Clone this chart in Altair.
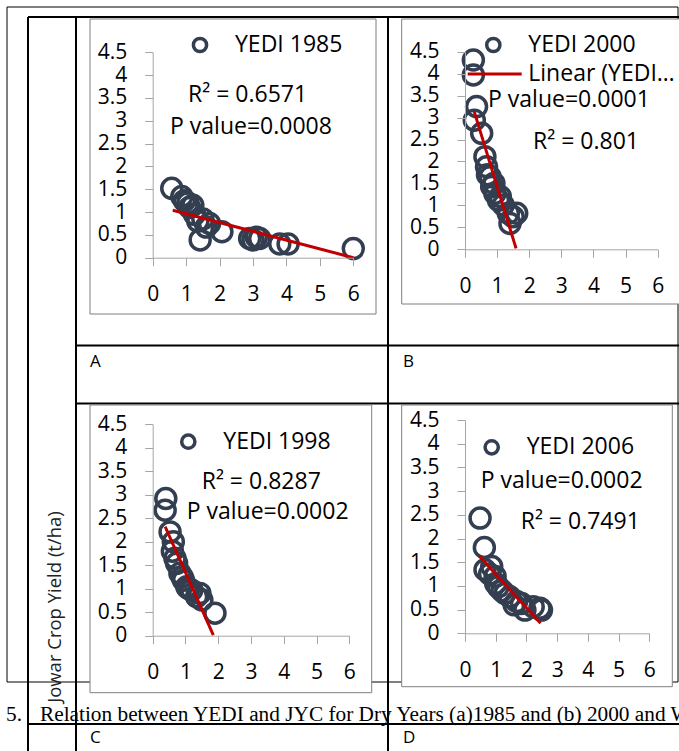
import altair as alt
import pandas as pd

# ---------------- data ----------------
X_TICKS = [0, 1, 2, 3, 4, 5, 6]
Y_TICKS = [0, 0.5, 1, 1.5, 2, 2.5, 3, 3.5, 4, 4.5]

# Panel A : YEDI 1985
A_yedi = [0.57, 0.87, 0.95, 1.05, 1.10, 1.20, 1.25, 1.35, 1.42, 1.50, 1.60, 1.70, 2.07, 2.90, 3.00, 3.10, 3.20, 3.80, 4.05, 6.00]
A_jyc = [1.52, 1.34, 1.25, 1.20, 1.10, 1.15, 0.95, 0.80, 0.39, 0.85, 0.67, 0.75, 0.57, 0.42, 0.39, 0.45, 0.42, 0.30, 0.30, 0.20]
A_trend_x = [0.60, 6.00]
A_trend_y = [1.04, 0.00]

# Panel B : YEDI 2000
B_yedi = [0.26, 0.26, 0.36, 0.29, 0.52, 0.62, 0.67, 0.70, 0.78, 0.83, 0.90, 0.93, 1.04, 1.10, 1.19, 1.35, 1.40, 1.50, 1.61]
B_jyc = [4.31, 3.97, 3.25, 2.94, 2.64, 2.11, 1.88, 1.70, 1.65, 1.43, 1.50, 1.27, 1.12, 1.20, 1.01, 0.82, 0.59, 0.74, 0.82]
B_trend_x = [0.29, 1.59]
B_trend_y = [3.13, 0.02]

# Panel C : YEDI 1998
C_yedi = [0.40, 0.38, 0.53, 0.60, 0.63, 0.68, 0.73, 0.83, 0.90, 0.94, 1.04, 1.10, 1.19, 1.34, 1.44, 1.50, 1.90]
C_jyc = [2.92, 2.67, 2.21, 1.80, 2.00, 1.65, 1.54, 1.33, 1.25, 1.18, 1.04, 1.00, 0.97, 0.83, 0.90, 0.76, 0.48]
C_trend_x = [0.38, 1.85]
C_trend_y = [2.32, 0.01]

# Panel D : YEDI 2006
D_yedi = [0.49, 0.63, 0.65, 0.80, 0.87, 0.98, 1.00, 1.08, 1.20, 1.30, 1.46, 1.60, 1.68, 1.84, 1.95, 2.22, 2.44, 2.49]
D_jyc = [2.43, 1.81, 1.34, 1.25, 1.41, 1.20, 1.05, 0.98, 0.90, 0.84, 0.77, 0.60, 0.67, 0.63, 0.49, 0.56, 0.53, 0.49]
D_trend_x = [0.46, 2.46]
D_trend_y = [1.63, 0.21]

SERIES_NAMES = ["YEDI 1985", "YEDI 2000", "YEDI 1998", "YEDI 2006"]
R2_TEXT = ["R² = 0.6571", "R² = 0.801", "R² = 0.8287", "R² = 0.7491"]
P_TEXT = ["P value=0.0008", "P value=0.0001", "P value=0.0002", "P value=0.0002"]
CELL_LABELS = ["A", "B", "C", "D"]
Y_TITLE = "Jowar Crop Yield (t/ha)"
CAPTION_NUM = "Fig. 5."
CAPTION = "Relation between YEDI and JYC for Dry Years (a)1985 and (b) 2000 and Wet Years"
TREND_LEGEND = "Linear (YEDI…"

# ---------------- styling / layout ----------------
W, H = 679, 751
FONT = "Open Sans"
PT_COLOR = "#333f50"
RED = "#c00000"
AX_COLOR = "#a6a6a6"
BOX_COLOR = "#7f7f7f"
ONE = pd.DataFrame({"k": [0]})


def rule(x1, y1, x2, y2, w=2, color="black"):
    enc = dict(x=alt.value(x1), y=alt.value(y1))
    if x1 != x2:
        enc["x2"] = alt.value(x2)
    if y1 != y2:
        enc["y2"] = alt.value(y2)
    return alt.Chart(ONE).mark_rule(color=color, strokeWidth=w).encode(**enc)


def text(s, x, y, size=23, align="left", font=FONT, angle=0, color="black", baseline="middle"):
    kw = dict(text=s, align=align, baseline=baseline, font=font, fontSize=size, color=color)
    if angle:
        kw["angle"] = angle
    return alt.Chart(ONE).mark_text(**kw).encode(x=alt.value(x), y=alt.value(y))


def panel(xs_, ys_, tx, ty, geo, box, legend_xy, texts, extra=None):
    x0, x6, y0, y45 = geo
    xsc = alt.Scale(domain=[0, 6], range=[x0, x6], nice=False, zero=False)
    ysc = alt.Scale(domain=[0, 4.5], range=[y0, y45], nice=False, zero=False)
    common = dict(
        grid=False, title=None, domainColor=AX_COLOR, tickColor=AX_COLOR,
        tickSize=8, labelPadding=18, labelFont=FONT, labelFontSize=21, labelColor="black",
        labelExpr="datum.value + ''", zindex=1, labelOverlap=False, labelFlush=False,
    )
    xa = alt.Axis(orient="bottom", offset=y0 - H, values=X_TICKS, **common)
    ya = alt.Axis(orient="left", offset=-x0, values=Y_TICKS, **common)

    bx = alt.Chart(ONE).mark_rect(fill="white", stroke=BOX_COLOR, strokeWidth=1).encode(
        x=alt.value(box[0]), x2=alt.value(box[2]), y=alt.value(box[1]), y2=alt.value(box[3]))
    pts = alt.Chart(pd.DataFrame({"yedi": xs_, "jyc": ys_})).mark_point(
        shape="circle", filled=False, size=400, strokeWidth=3.5, color=PT_COLOR, opacity=1
    ).encode(x=alt.X("yedi:Q", scale=xsc, axis=xa), y=alt.Y("jyc:Q", scale=ysc, axis=ya))
    trend = alt.Chart(pd.DataFrame({"yedi": tx, "jyc": ty})).mark_line(
        color=RED, strokeWidth=3
    ).encode(x=alt.X("yedi:Q", scale=xsc, axis=xa), y=alt.Y("jyc:Q", scale=ysc, axis=ya))
    lx, ly, name = legend_xy
    leg_sym = alt.Chart(ONE).mark_point(shape="circle", filled=False, size=175, strokeWidth=3.5,
                                        color=PT_COLOR, opacity=1).encode(
        x=alt.value(lx), y=alt.value(ly))
    leg_txt = text(name, lx + 35, ly)
    layers = [bx, pts, trend, leg_sym, leg_txt]
    for s, x, y in texts:
        layers.append(text(s, x, y))
    if extra:
        layers += extra
    return alt.layer(*layers)


# table frame
frame = [
    rule(7, 7, 678, 7, 1), rule(7, 7, 7, 682, 1), rule(7, 682, 678, 682, 1), rule(678, 7, 678, 682, 1),
    rule(28, 17, 690, 17), rule(28, 17, 28, 751), rule(76, 17, 76, 751), rule(388, 17, 388, 751),
    rule(76, 345.5, 690, 345.5), rule(76, 403.5, 690, 403.5), rule(28, 724, 690, 724),
]

pA = panel(A_yedi, A_jyc, A_trend_x, A_trend_y, (152.7, 353.3, 257.7, 52.3), (90, 19, 376, 314),
           (200, 45, SERIES_NAMES[0]),
           [(R2_TEXT[0], 188, 95), (P_TEXT[0], 170, 127)])
pB = panel(B_yedi, B_jyc, B_trend_x, B_trend_y, (465, 657.7, 249.3, 51.7), (401.7, 19, 700, 304),
           (493.3, 45, SERIES_NAMES[1]),
           [(P_TEXT[1], 488, 100), (R2_TEXT[1], 533, 142)],
           extra=[alt.Chart(ONE).mark_rule(color=RED, strokeWidth=3).encode(
               x=alt.value(467.7), x2=alt.value(521.7), y=alt.value(74)),
               text(TREND_LEGEND, 528.3, 74)])
pC = panel(C_yedi, C_jyc, C_trend_x, C_trend_y, (152.7, 349.3, 635.7, 424.3), (90, 405, 371.7, 692.7),
           (188.3, 441.7, SERIES_NAMES[2]),
           [(R2_TEXT[2], 201.7, 482), (P_TEXT[2], 186.7, 512)])
pD = panel(D_yedi, D_jyc, D_trend_x, D_trend_y, (465, 649.3, 633.3, 420), (401.7, 405, 672.3, 686.7),
           (491.7, 447.3, SERIES_NAMES[3]),
           [(P_TEXT[3], 480.7, 481), (R2_TEXT[3], 520.7, 522)])

labels = [
    text(CELL_LABELS[0], 90, 362, size=17), text(CELL_LABELS[1], 403, 362, size=17),
    text(CELL_LABELS[2], 90, 738, size=17), text(CELL_LABELS[3], 403, 738, size=17),
    text(Y_TITLE, 55, 607, size=18.5, align="center", angle=270, color="#222222"),
    text(CAPTION_NUM, 22, 721, size=21.3, align="right", font="Liberation Serif", baseline="alphabetic"),
    text(CAPTION, 40, 721, size=21.3, font="Liberation Serif", baseline="alphabetic"),
]

chart = alt.layer(*frame, pA, pB, pC, pD, *labels).resolve_scale(
    x="independent", y="independent"
).resolve_axis(x="independent", y="independent").properties(
    width=W, height=H, padding=0, autosize=alt.AutoSizeParams(type="none"), background="white"
).configure_view(strokeWidth=0)

chart.save("out.html", embed_options={"renderer": "svg", "actions": False})
